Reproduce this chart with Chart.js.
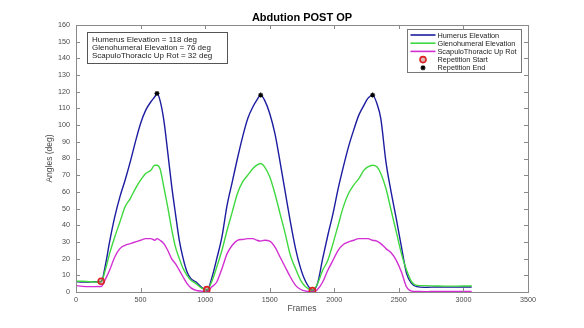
<!DOCTYPE html>
<html>
<head>
<meta charset="utf-8">
<script src="https://cdn.jsdelivr.net/npm/chart.js@4.4.1/dist/chart.umd.min.js"></script>
<style>
  html, body { margin: 0; padding: 0; background: #fff; }
  #wrap { width: 584px; height: 328px; }
</style>
</head>
<body>
<div id="wrap"><canvas id="chart" width="584" height="328"></canvas></div>
<script>
// frames sampled along the trace
const frames = [0, 50, 100, 150, 195, 230, 260, 300, 340, 380, 420, 460, 500, 540, 580, 610, 627, 650, 680, 710, 740, 770, 800, 830, 860, 890, 930, 970, 1015,
  1050, 1090, 1130, 1170, 1210, 1250, 1290, 1330, 1370, 1400, 1430, 1460, 1500, 1540, 1580, 1620, 1660, 1700, 1740, 1780, 1833,
  1870, 1910, 1950, 1990, 2030, 2070, 2110, 2150, 2190, 2230, 2260, 2297, 2330, 2360, 2400, 2440, 2480, 2520, 2560, 2600, 2640, 2700, 2800, 2900, 3000, 3064];

const humerus = [6.2, 6.0, 6.0, 6.1, 6.2, 17, 30, 45, 57, 67, 78, 90, 101, 109, 114, 117, 119, 115, 103, 84, 64, 47, 31, 20, 12, 8, 6, 3, 1,
  8, 20, 33, 52, 66, 80, 93, 104, 111, 115, 118, 115, 107, 95, 78, 60, 42, 26, 14, 6, 1,
  5, 20, 34, 47, 62, 75, 87, 97, 106, 112, 116, 118, 113, 104, 78, 60, 44, 27, 11, 5, 3.2, 2.8, 3.0, 2.9, 3.0, 3.0];

const glenohumeral = [6.5, 6.4, 6.2, 6.0, 6.2, 14, 23, 33, 42, 51, 56, 62, 67, 71, 73, 76, 76, 74, 63, 51, 38, 27, 20, 14, 10, 7, 5, 2.5, 1.2,
  6, 15, 25, 37, 48, 59, 66, 70, 74, 76, 77, 75, 69, 59, 47, 35, 22, 14, 7, 3, 1,
  5, 13, 19, 29, 40, 51, 59, 64, 68, 73, 75, 76, 75, 71, 62, 49, 36, 23, 13, 6, 4, 3.8, 3.6, 3.5, 3.6, 3.6];

const scapuloThoracic = [3.8, 3.4, 3.2, 3.2, 3.3, 8, 13, 21, 26, 28, 29, 30, 31, 32, 32, 31, 32, 31, 29, 25, 20, 17, 13, 9, 5, 2.5, 1, 0.5, 0.2,
  3, 6, 14, 23, 28, 31, 31.5, 32, 32, 31, 30.5, 31, 30.5, 27, 21, 15, 9, 4, 1.5, 0.5, 0.2,
  1.5, 6, 13, 19, 25, 28.5, 30, 31, 32, 32, 32, 31, 30.5, 29, 26, 23.5, 19, 12, 3, 0.5, 0.3, 0.2, 0.4, 0.3, 0.4, 0.3];

const startFrames = [195, 1013, 1831];
const startAngles = [6.4, 1.4, 0.8];
const endFrames = [627, 1430, 2297];
const endAngles = [119, 118, 118];

const xTicks = [0, 500, 1000, 1500, 2000, 2500, 3000, 3500];
const yMax = 160;

const summaryLines = [
  'Humerus Elevation = 118 deg',
  'Glenohumeral Elevation = 76 deg',
  'ScapuloThoracic Up Rot = 32 deg'
];

const FONT = "'Liberation Sans', Arial, sans-serif";
const AXIS_COLOR = '#8a8a8a';
const TEXT_COLOR = '#4a4a4a';

const toXY = (xs, ys) => xs.map((x, i) => ({ x, y: ys[i] }));

// MATLAB-like frame: box, inward ticks, title, axis labels, text box, legend
const matlabFrame = {
  id: 'matlabFrame',
  afterDraw(chart) {
    const { ctx, chartArea: a, scales } = chart;
    const xs = scales.x, ys = scales.y;
    ctx.save();

    // box
    ctx.strokeStyle = AXIS_COLOR;
    ctx.lineWidth = 1;
    ctx.strokeRect(a.left + 0.5, a.top + 0.5, a.right - a.left, a.bottom - a.top);

    // inward ticks
    ctx.beginPath();
    xs.ticks.forEach(t => {
      const px = Math.round(xs.getPixelForValue(t.value)) + 0.5;
      ctx.moveTo(px, a.bottom); ctx.lineTo(px, a.bottom - 4);
      ctx.moveTo(px, a.top); ctx.lineTo(px, a.top + 4);
    });
    ys.ticks.forEach(t => {
      const py = Math.round(ys.getPixelForValue(t.value)) + 0.5;
      ctx.moveTo(a.left, py); ctx.lineTo(a.left + 4, py);
      ctx.moveTo(a.right, py); ctx.lineTo(a.right - 4, py);
    });
    ctx.stroke();

    // title
    ctx.fillStyle = '#000';
    ctx.font = `bold 11px ${FONT}`;
    ctx.textAlign = 'center';
    ctx.textBaseline = 'alphabetic';
    ctx.fillText('Abdution POST OP', (a.left + a.right) / 2, 20.5);

    // axis labels
    ctx.fillStyle = TEXT_COLOR;
    ctx.font = `8.5px ${FONT}`;
    ctx.textBaseline = 'middle';
    ctx.fillText('Frames', (a.left + a.right) / 2, 309);
    ctx.save();
    ctx.translate(50, (a.top + a.bottom) / 2);
    ctx.rotate(-Math.PI / 2);
    ctx.fillText('Angles (deg)', 0, 0);
    ctx.restore();

    // summary text box
    ctx.fillStyle = '#fff';
    ctx.fillRect(87.5, 32.5, 140, 31);
    ctx.strokeStyle = '#555';
    ctx.strokeRect(87.5, 32.5, 140, 31);
    ctx.fillStyle = '#222';
    ctx.font = `8px ${FONT}`;
    ctx.textAlign = 'left';
    summaryLines.forEach((s, i) => ctx.fillText(s, 92, 39.5 + i * 8.2));

    // legend
    const lx = 407.5, ly = 29.5, lw = 114, lh = 43;
    ctx.fillStyle = '#fff';
    ctx.fillRect(lx, ly, lw, lh);
    ctx.strokeStyle = '#777';
    ctx.strokeRect(lx, ly, lw, lh);
    ctx.font = `7.3px ${FONT}`;
    chart.data.datasets.forEach((ds, i) => {
      const y = ly + 5.5 + i * 8.2;
      if (ds.showLine !== false) {
        ctx.strokeStyle = ds.borderColor;
        ctx.lineWidth = 1.6;
        ctx.beginPath();
        ctx.moveTo(lx + 3, y); ctx.lineTo(lx + 28, y);
        ctx.stroke();
      } else {
        ctx.save();
        ctx.strokeStyle = ds.pointBorderColor;
        ctx.fillStyle = ds.pointBackgroundColor;
        ctx.lineWidth = ds.pointBorderWidth;
        Chart.helpers.drawPoint(ctx, {
          pointStyle: ds.pointStyle,
          radius: ds.pointRadius,
          borderWidth: ds.pointBorderWidth,
          rotation: 0
        }, lx + 15.5, y);
        ctx.restore();
      }
      ctx.fillStyle = '#222';
      ctx.fillText(ds.label, lx + 30, y + 0.5);
    });

    ctx.restore();
  }
};

new Chart(document.getElementById('chart'), {
  type: 'line',
  data: {
    datasets: [
      {
        label: 'Humerus Elevation',
        data: toXY(frames, humerus),
        borderColor: '#1c1ca0',
        borderWidth: 1.4,
        pointRadius: 0,
        cubicInterpolationMode: 'monotone',
        order: 4
      },
      {
        label: 'Glenohumeral Elevation',
        data: toXY(frames, glenohumeral),
        borderColor: '#3fd83f',
        borderWidth: 1.4,
        pointRadius: 0,
        cubicInterpolationMode: 'monotone',
        order: 3
      },
      {
        label: 'ScapuloThoracic Up Rot',
        data: toXY(frames, scapuloThoracic),
        borderColor: '#d22fd2',
        borderWidth: 1.4,
        pointRadius: 0,
        cubicInterpolationMode: 'monotone',
        order: 2
      },
      {
        label: 'Repetition Start',
        data: toXY(startFrames, startAngles),
        showLine: false,
        pointStyle: 'circle',
        pointRadius: 3,
        pointBorderWidth: 1.6,
        pointBorderColor: '#dc2020',
        pointBackgroundColor: 'rgba(150,60,60,0.35)',
        borderColor: '#dc2020',
        order: 1
      },
      {
        label: 'Repetition End',
        data: toXY(endFrames, endAngles),
        showLine: false,
        pointStyle: 'star',
        pointRadius: 2.5,
        pointBorderWidth: 1.2,
        pointBorderColor: '#000',
        pointBackgroundColor: '#000',
        borderColor: '#000',
        order: 0
      }
    ]
  },
  options: {
    responsive: false,
    animation: false,
    layout: { padding: { left: 0, right: 56, top: 25, bottom: 0 } },
    plugins: {
      legend: { display: false },
      tooltip: { enabled: false },
      title: { display: false }
    },
    scales: {
      x: {
        type: 'linear',
        min: 0,
        max: 3500,
        afterBuildTicks: scale => { scale.ticks = xTicks.map(v => ({ value: v })); },
        afterFit: scale => { scale.height = 36; },
        ticks: {
          color: TEXT_COLOR,
          font: { family: FONT, size: 7.2 },
          padding: 4,
          maxRotation: 0,
          callback: v => String(v)
        },
        grid: { drawOnChartArea: false, drawTicks: false },
        border: { color: AXIS_COLOR }
      },
      y: {
        min: 0,
        max: yMax,
        ticks: { stepSize: 10, color: TEXT_COLOR, font: { family: FONT, size: 7.2 }, padding: 6 },
        afterFit: scale => { scale.width = 76; },
        grid: { drawOnChartArea: false, drawTicks: false },
        border: { color: AXIS_COLOR }
      }
    }
  },
  plugins: [matlabFrame]
});
</script>
</body>
</html>
